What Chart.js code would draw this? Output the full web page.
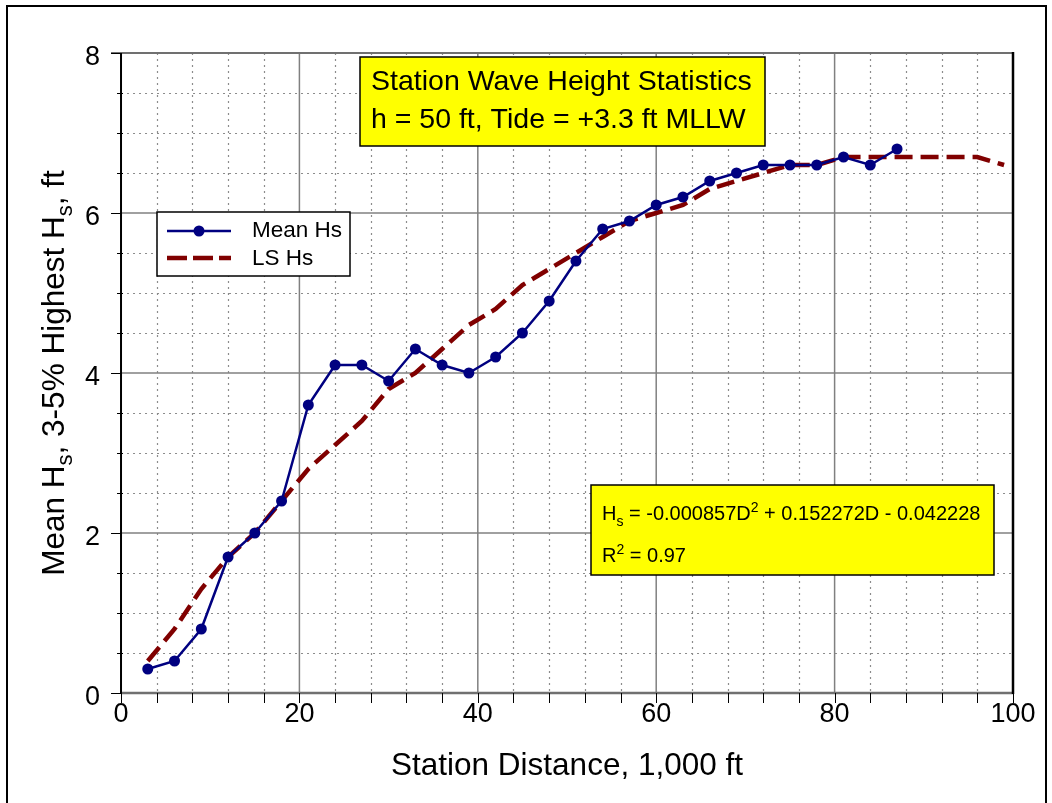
<!DOCTYPE html>
<html>
<head>
<meta charset="utf-8">
<script src="https://cdn.jsdelivr.net/npm/chart.js@4.4.0/dist/chart.umd.min.js"></script>
<style>
  body { margin: 0; background: #fff; }
  #wrap { width: 1052px; height: 803px; }
</style>
</head>
<body>
<div id="wrap"><canvas id="myChart" width="1052" height="803"></canvas></div>
<script>
// values
const stations = [3, 6, 9, 12, 15, 18, 21, 24, 27, 30, 33, 36, 39, 42, 45, 48, 51, 54, 57, 60, 63, 66, 69, 72, 75, 78, 81, 84, 87];
const meanHs   = [0.3, 0.4, 0.8, 1.7, 2.0, 2.4, 3.6, 4.1, 4.1, 3.9, 4.3, 4.1, 4.0, 4.2, 4.5, 4.9, 5.4, 5.8, 5.9, 6.1, 6.2, 6.4, 6.5, 6.6, 6.6, 6.6, 6.7, 6.6, 6.8];

const lsStations = [3, 6, 9, 12, 15, 18, 21, 24, 27, 30, 33, 36, 39, 42, 45, 48, 51, 54, 57, 60, 63, 66, 69, 72, 75, 78, 81, 84, 87, 90, 93, 96, 99];
const lsHs       = [0.4, 0.8, 1.3, 1.7, 2.0, 2.4, 2.8, 3.1, 3.4, 3.8, 4.0, 4.3, 4.6, 4.8, 5.1, 5.3, 5.5, 5.7, 5.9, 6.0, 6.1, 6.3, 6.4, 6.5, 6.6, 6.6, 6.7, 6.7, 6.7, 6.7, 6.7, 6.7, 6.6];

const xTicks = [0, 20, 40, 60, 80, 100];
const yTicks = [0, 2, 4, 6, 8];

const FONT = "'Liberation Sans', Arial, sans-serif";
const NAVY = '#000080';
const MAROON = '#800000';

// draws text with sub/superscript pieces
function richText(ctx, runs, x, y, size, align) {
  let w = 0;
  runs.forEach(function (r) {
    ctx.font = ((r.sub || r.sup) ? size * 0.7 : size) + 'px ' + FONT;
    r.w = ctx.measureText(r.t).width;
    w += r.w;
  });
  let cx = align === 'center' ? x - w / 2 : x;
  ctx.textAlign = 'left';
  ctx.textBaseline = 'alphabetic';
  ctx.fillStyle = '#000';
  runs.forEach(function (r) {
    ctx.font = ((r.sub || r.sup) ? size * 0.7 : size) + 'px ' + FONT;
    const dy = r.sub ? size * 0.28 : (r.sup ? -size * 0.42 : 0);
    ctx.fillText(r.t, cx, y + dy);
    cx += r.w;
  });
}

function line(ctx, x1, y1, x2, y2) {
  ctx.beginPath();
  ctx.moveTo(x1, y1);
  ctx.lineTo(x2, y2);
  ctx.stroke();
}

const gridPlugin = {
  id: 'gridPlugin',
  beforeDatasetsDraw(chart) {
    const ctx = chart.ctx;
    const a = chart.chartArea;
    const x = chart.scales.x, y = chart.scales.y;
    ctx.save();
    // minor dotted grid
    ctx.strokeStyle = '#8c8c8c';
    ctx.lineWidth = 1.2;
    ctx.setLineDash([2, 4]);
    for (let v = 4; v < 100; v += 4) {
      if (v % 20 === 0) continue;
      const px = Math.round(x.getPixelForValue(v)) + 0.5;
      line(ctx, px, a.top, px, a.bottom);
    }
    for (let v = 0.5; v < 8; v += 0.5) {
      if (v % 2 === 0) continue;
      const py = Math.round(y.getPixelForValue(v)) + 0.5;
      line(ctx, a.left, py, a.right, py);
    }
    // major solid grid
    ctx.setLineDash([]);
    ctx.strokeStyle = '#808080';
    ctx.lineWidth = 1.5;
    xTicks.forEach(function (v) {
      if (v === 0 || v === 100) return;
      const px = x.getPixelForValue(v);
      line(ctx, px, a.top, px, a.bottom);
    });
    yTicks.forEach(function (v) {
      if (v === 0 || v === 8) return;
      const py = y.getPixelForValue(v);
      line(ctx, a.left, py, a.right, py);
    });
    // frame of plot area
    ctx.lineWidth = 2;
    ctx.strokeStyle = '#707070';
    line(ctx, a.left - 10, a.top, a.right, a.top);
    ctx.lineWidth = 2.5;
    line(ctx, a.left, a.bottom, a.right, a.bottom);
    ctx.strokeStyle = '#000';
    ctx.lineWidth = 2;
    line(ctx, a.left, a.top, a.left, a.bottom + 1);
    ctx.lineWidth = 2.5;
    line(ctx, a.right, a.top - 1, a.right, a.bottom + 1);
    // tick marks
    ctx.lineWidth = 1;
    for (let v = 0; v <= 8; v += 0.5) {
      const py = Math.round(y.getPixelForValue(v)) + 0.5;
      if (v % 2 === 0) line(ctx, a.left - 10, py, a.left, py);
      else line(ctx, a.left - 4, py, a.left + 2, py);
    }
    for (let v = 0; v <= 100; v += 4) {
      const px = Math.round(x.getPixelForValue(v)) + 0.5;
      line(ctx, px, a.bottom, px, a.bottom + 10);
    }
    ctx.restore();
  },
  afterDraw(chart) {
    const ctx = chart.ctx;
    const a = chart.chartArea;
    ctx.save();

    // title box
    ctx.fillStyle = '#ffff00';
    ctx.fillRect(360, 57, 405, 89);
    ctx.strokeStyle = '#000';
    ctx.lineWidth = 1.5;
    ctx.strokeRect(360, 57, 405, 89);
    ctx.fillStyle = '#000';
    ctx.font = '28.5px ' + FONT;
    ctx.textAlign = 'left';
    ctx.textBaseline = 'alphabetic';
    ctx.fillText('Station Wave Height Statistics', 371, 90);
    ctx.fillText('h = 50 ft, Tide = +3.3 ft MLLW', 371, 128);

    // legend box
    ctx.fillStyle = '#fff';
    ctx.fillRect(157, 212, 193, 64);
    ctx.strokeStyle = '#000';
    ctx.lineWidth = 1.5;
    ctx.strokeRect(157, 212, 193, 64);
    ctx.strokeStyle = NAVY;
    ctx.lineWidth = 2.5;
    line(ctx, 167, 231, 231, 231);
    ctx.fillStyle = NAVY;
    ctx.beginPath();
    ctx.arc(199, 231, 5.5, 0, Math.PI * 2);
    ctx.fill();
    ctx.strokeStyle = MAROON;
    ctx.lineWidth = 4.5;
    ctx.setLineDash([20, 6]);
    line(ctx, 167, 258, 231, 258);
    ctx.setLineDash([]);
    ctx.fillStyle = '#000';
    ctx.font = '22.5px ' + FONT;
    ctx.textBaseline = 'middle';
    ctx.fillText('Mean Hs', 252, 231);
    ctx.fillText('LS Hs', 252, 259);

    // equation box
    ctx.fillStyle = '#ffff00';
    ctx.fillRect(591, 485, 403, 90);
    ctx.strokeStyle = '#000';
    ctx.lineWidth = 1.5;
    ctx.strokeRect(591, 485, 403, 90);
    richText(ctx, [{t: 'H'}, {t: 's', sub: true}, {t: ' = -0.000857D'}, {t: '2', sup: true}, {t: ' + 0.152272D - 0.042228'}], 602, 520, 20, 'left');
    richText(ctx, [{t: 'R'}, {t: '2', sup: true}, {t: ' = 0.97'}], 602, 562, 20, 'left');

    // axis titles
    richText(ctx, [{t: 'Station Distance, 1,000 ft'}], (a.left + a.right) / 2, 775, 31.5, 'center');
    ctx.save();
    ctx.translate(63.5, (a.top + a.bottom) / 2);
    ctx.rotate(-Math.PI / 2);
    richText(ctx, [{t: 'Mean H'}, {t: 's', sub: true}, {t: ', 3-5% Highest H'}, {t: 's', sub: true}, {t: ', ft'}], 0, 0, 31.5, 'center');
    ctx.restore();

    // outer frame
    ctx.strokeStyle = '#000';
    ctx.lineWidth = 2;
    ctx.strokeRect(7, 6, 1039, 810);
    ctx.restore();
  }
};

const data = {
  datasets: [
    {
      label: 'Mean Hs',
      data: stations.map(function (s, i) { return {x: s, y: meanHs[i]}; }),
      borderColor: NAVY,
      backgroundColor: NAVY,
      borderWidth: 2.5,
      pointRadius: 5.5,
      pointBackgroundColor: NAVY,
      pointBorderWidth: 0,
      tension: 0,
      order: 1
    },
    {
      label: 'LS Hs',
      data: lsStations.map(function (s, i) { return {x: s, y: lsHs[i]}; }),
      borderColor: MAROON,
      backgroundColor: MAROON,
      borderWidth: 4.5,
      borderDash: [18, 8],
      pointRadius: 0,
      tension: 0,
      order: 2
    }
  ]
};

const config = {
  type: 'line',
  data: data,
  options: {
    responsive: false,
    animation: false,
    devicePixelRatio: 1,
    layout: { padding: { left: 64, right: 39, top: 53, bottom: 67.6 } },
    plugins: {
      legend: { display: false },
      tooltip: { enabled: false }
    },
    scales: {
      x: {
        type: 'linear',
        min: 0,
        max: 100,
        afterBuildTicks: function (s) { s.ticks = xTicks.map(function (v) { return {value: v}; }); },
        grid: { display: false, drawTicks: false },
        border: { display: false },
        ticks: { color: '#000', font: { family: FONT, size: 27 }, padding: 5, maxRotation: 0, autoSkip: false }
      },
      y: {
        min: 0,
        max: 8,
        afterBuildTicks: function (s) { s.ticks = yTicks.map(function (v) { return {value: v}; }); },
        grid: { display: false, drawTicks: false },
        border: { display: false },
        ticks: { color: '#000', font: { family: FONT, size: 27 }, padding: 21, labelOffset: 5 }
      }
    }
  },
  plugins: [gridPlugin]
};

const ctx = document.getElementById('myChart');
new Chart(ctx, config);
</script>
</body>
</html>
